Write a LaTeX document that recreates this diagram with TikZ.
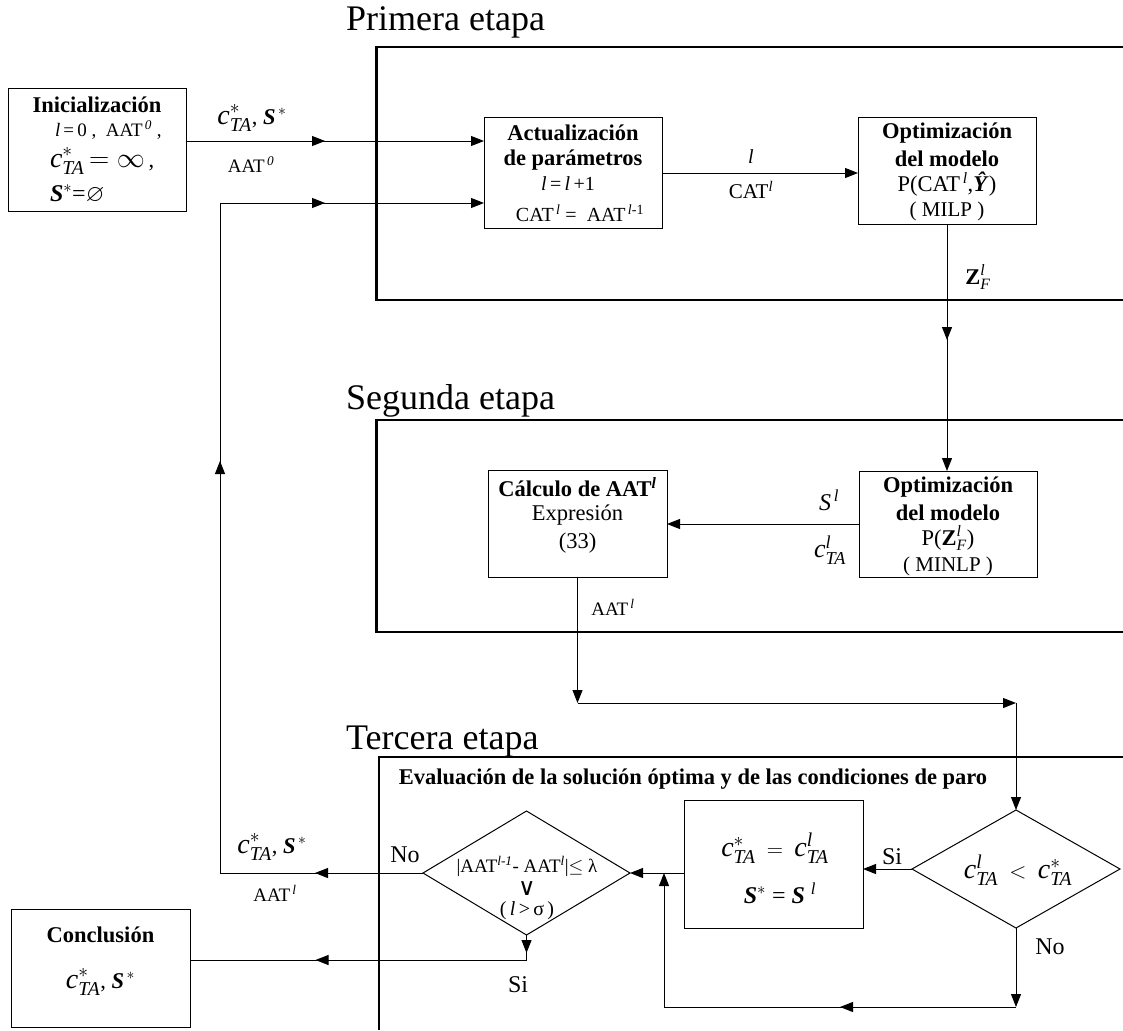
\documentclass[tikz,border=0pt]{standalone}
\usepackage{fix-cm}
\usepackage{amsmath,amssymb}
\usepackage{fontspec}
\setmainfont{Liberation Serif}
\newfontfamily\dvs{DejaVu Sans}
\usetikzlibrary{arrows.meta,shapes.geometric,decorations.markings}
\newcommand{\fs}[1]{\fontsize{#1}{#1}\selectfont}
\newcommand{\Ct}[1]{{\fs{28}$\textit{c}^{#1}_{\textit{TA}}$}}
\newcommand{\Sb}{\textbf{\textit{S}}}
\newcommand{\il}{\textit{l}}
\begin{document}
\begin{tikzpicture}[x=1pt,y=-1pt,
 box/.style={draw,line width=1pt,rectangle,inner sep=0pt,outer sep=0pt},
 dia/.style={draw,line width=1pt,diamond,inner sep=0pt,outer sep=0pt},
 stage/.style={line width=2.3pt},
 conn/.style={line width=1pt},
 arr/.style={conn,-{Triangle[length=13pt,width=10pt]}},
 midarr/.style={postaction={decorate,decoration={markings,mark=at position #1 with {\arrow{Triangle[length=13pt,width=10pt]}}}}},
 txt/.style={inner sep=0pt,outer sep=0pt,font=\fs{22.5}},
 btxt/.style={inner sep=0pt,outer sep=0pt,font=\fs{22.5}\bfseries},
 ttl/.style={inner sep=0pt,anchor=base west,font=\fs{36}},
]
\useasboundingbox (0,0) rectangle (1123,1030);

% stage titles and frames
\node[ttl] (t1) at (346,31) {Primera etapa};
\node[ttl] (t2) at (346,409) {Segunda etapa};
\node[ttl] (t3) at (346,749) {Tercera etapa};
\draw[stage] (1123,47) -- (376.5,47) -- (376.5,300) -- (1123,300);
\draw[stage] (1123,420) -- (376.5,420) -- (376.5,632) -- (1123,632);
\draw[stage] (1123,757) -- (379,757) -- (379,1030);

% boxes
\node[box,minimum width=178pt,minimum height=122pt] (init) at (97,150) {};
\node[box,minimum width=178pt,minimum height=110pt] (act) at (573,173) {};
\node[box,minimum width=178pt,minimum height=106pt] (opt1) at (947,171) {};
\node[box,minimum width=178pt,minimum height=106pt] (opt2) at (948,524) {};
\node[box,minimum width=179pt,minimum height=107pt] (calc) at (577.5,523.5) {};
\node[box,minimum width=179pt,minimum height=128pt] (cbox) at (773.5,864) {};
\node[box,minimum width=179pt,minimum height=118pt] (concl) at (100.5,968) {};
\node[dia,minimum width=208pt,minimum height=118pt] (rdia) at (1016,869) {};
\node[dia,minimum width=207pt,minimum height=124pt] (ldia) at (526.5,873) {};

% texts: Inicializacion
\node[btxt] (i1) at (97,105) {Inicialización};
\node[txt,anchor=west,font=\fs{19}] (i2) at (55,130) {\il\,=\,0 ,\ \ AAT$^{\,\textit{0}}$ ,};
\node[txt,anchor=west] (i3) at (50,161) {\Ct{*}{\fs{28}$\,=\infty$}\,,};
\node[txt,anchor=west,font=\fs{24}] (i4) at (50,194) {\Sb$^{*}$=$\varnothing$};
\node[txt] (l1) at (252,118) {\Ct{*}, \Sb$^{\,*}$};
\node[txt,font=\fs{19}] (l2) at (251,165) {AAT$^{\,\textit{0}}$};

% Actualizacion
\node[btxt] (a1) at (573,133) {Actualización};
\node[btxt] (a2) at (573,160) {de parámetros};
\node[txt,font=\fs{20}] (a3) at (568,184) {\il\,=\,\il\,+1};
\node[txt,font=\fs{20}] (a4) at (580,213) {CAT$^{\,\il}$ =\ \ AAT$^{\,\il\text{-1}}$};
\node[txt,font=\fs{20}] (la) at (751,157) {\il};
\node[txt,font=\fs{21}] (lb) at (751,190) {CAT$^{\il}$};

% Optimizacion 1
\node[btxt] (o1) at (947,133) {Optimización};
\node[btxt] (o2) at (947,159) {del modelo};
\node[txt] (o3) at (947,184) {P(CAT$^{\,\il}$,\textbf{\textit{\^Y}})};
\node[txt,font=\fs{21}] (o4) at (947,211) {( MILP )};
\node[txt] (lz) at (978,277) {$\textbf{Z}^{\il}_{\textit{F}}$};

% Optimizacion 2 and Calculo
\node[btxt] (p1) at (948,487) {Optimización};
\node[btxt] (p2) at (948,513) {del modelo};
\node[txt] (p3) at (948,538) {P($\textbf{Z}^{\il}_{\textit{F}}$)};
\node[txt,font=\fs{21}] (p4) at (948,566) {( MINLP )};
\node[btxt] (c1) at (577.5,487) {Cálculo de AAT$^{\textbf{\textit{l}}}$};
\node[txt] (c2) at (577.5,515) {Expresión};
\node[txt] (c3) at (577.5,543) {(33)};
\node[txt,font=\fs{24}] (ls) at (829,500) {\textit{S}$^{\,\il}$};
\node[txt] (lc) at (830,550) {{\fs{26}$\textit{c}^{\il}_{\textit{TA}}$}};
\node[txt,font=\fs{19}] (lt) at (613,607) {AAT$^{\,\il}$};

% Tercera etapa
\node[btxt] (e1) at (693,779) {Evaluación de la solución óptima y de las condiciones de paro};
\node[txt,font=\fs{19}] (d1) at (527,866) {|AAT$^{\textit{l-1}}$- AAT$^{\il}$|$\leq$ λ};
\node[txt,font=\fs{24}\dvs] (d2) at (527,889) {∨};
\node[txt,font=\fs{20}] (d3) at (527,911) {(\,\il\,>\,σ\,)};
\node[txt] (r1t) at (1018,870) {\Ct{\il}\ \ $<$\ \ \Ct{*}};
\node[txt] (b1) at (775,848) {\Ct{*}\ \ $=$\ \ \Ct{\il}};
\node[txt,font=\fs{24}] (b2) at (780,893) {\Sb$^{*}$\ =\ \Sb$^{\ \il}$};
\node[txt,font=\fs{24}] (si1) at (892,857) {Si};
\node[txt,font=\fs{24}] (no1) at (1050,947) {No};
\node[txt,font=\fs{24}] (no2) at (405,855) {No};
\node[txt,font=\fs{24}] (si2) at (518,985) {Si};
\node[txt] (m1) at (272,847) {\Ct{*}, \Sb$^{\,*}$};
\node[txt,font=\fs{19}] (m2) at (275,893) {AAT$^{\,\il}$};
\node[btxt] (f1) at (100.5,935) {Conclusión};
\node[txt] (f2) at (100.5,982) {\Ct{*}, \Sb$^{\,*}$};

% coordinates
\coordinate (in1) at (act.west |- 0,141);
\coordinate (in2) at (act.west |- 0,203);
\coordinate (k1) at (calc.south |- 0,703);
\coordinate (k2) at (rdia.north |- 0,703);
\coordinate (n1) at (rdia.south |- 0,1007);
\coordinate (n2) at (664,1007);
\coordinate (n3) at (n2 |- ldia.east);
\coordinate (q1) at (ldia.west -| 220,0);
\coordinate (q2) at (q1 |- in2);
\coordinate (s1) at (ldia.south |- 0,960);

% connectors
\draw[arr,midarr=139pt] (init.east |- in1) -- (in1);
\draw[arr] (act.east) -- (act.east -| opt1.west);
\draw[arr,midarr=116pt] (opt1.south) -- (opt1.south |- opt2.north);
\draw[arr] (opt2.west) -- (opt2.west -| calc.east);
\draw[arr] (calc.south) -- (k1);
\draw[arr] (k1) -- (k2);
\draw[arr] (k2) -- (rdia.north);
\draw[arr] (rdia.west) -- (rdia.west -| cbox.east);
\draw[arr] (cbox.west |- ldia.east) -- (ldia.east);
\draw[arr] (rdia.south) -- (n1);
\draw[arr,midarr=176pt] (n1) -- (n2) -- (n3);
\draw[arr,midarr=108pt,midarr=615pt,midarr=978pt] (ldia.west) -- (q1) -- (q2) -- (in2);
\draw[conn,midarr=18pt,midarr=236pt] (ldia.south) -- (s1) -- (s1 -| concl.east);
\end{tikzpicture}
\end{document}
